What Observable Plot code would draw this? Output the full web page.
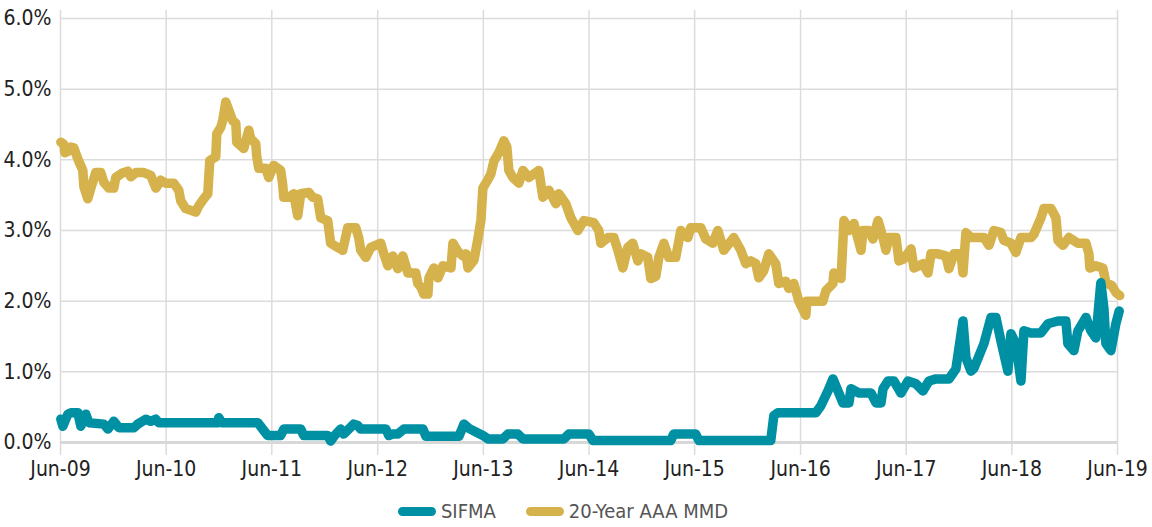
<!DOCTYPE html>
<html><head><meta charset="utf-8">
<script src="https://cdn.jsdelivr.net/npm/d3@7"></script>
<script src="https://cdn.jsdelivr.net/npm/@observablehq/plot@0.6"></script>
<style>
body{margin:0;background:#fff;font-family:"Liberation Sans Narrow","Arial Narrow","DejaVu Sans Condensed",sans-serif;}
#legend{display:flex;justify-content:center;align-items:center;gap:30px;padding-right:26px;height:52px;font-size:20px;color:#555;}
.item{display:flex;align-items:center;}
.sw{display:inline-block;width:38px;height:9px;border-radius:5px;margin-right:5px;}
</style></head><body>
<div id="chart"></div>
<div id="legend"></div>
<script>
// dates as decimal years, values in percent
const mmd = [[2009.417,4.25],[2009.445,4.22],[2009.455,4.10],[2009.483,4.12],[2009.512,4.18],[2009.540,4.17],[2009.568,4.05],[2009.587,3.98],[2009.625,3.85],[2009.635,3.62],[2009.672,3.45],[2009.701,3.60],[2009.748,3.82],[2009.795,3.82],[2009.824,3.68],[2009.871,3.60],[2009.918,3.60],[2009.937,3.75],[2009.994,3.81],[2010.051,3.84],[2010.079,3.76],[2010.127,3.82],[2010.202,3.82],[2010.268,3.78],[2010.316,3.60],[2010.363,3.71],[2010.410,3.67],[2010.486,3.67],[2010.533,3.57],[2010.552,3.42],[2010.599,3.31],[2010.694,3.26],[2010.723,3.35],[2010.770,3.45],[2010.808,3.52],[2010.817,3.75],[2010.827,3.99],[2010.883,4.04],[2010.893,4.37],[2010.931,4.46],[2010.950,4.56],[2010.978,4.82],[2011.025,4.63],[2011.044,4.55],[2011.073,4.52],[2011.082,4.25],[2011.148,4.16],[2011.196,4.42],[2011.214,4.30],[2011.262,4.23],[2011.271,4.05],[2011.290,3.88],[2011.356,3.88],[2011.385,3.75],[2011.432,3.92],[2011.498,3.85],[2011.517,3.65],[2011.527,3.47],[2011.574,3.47],[2011.621,3.52],[2011.659,3.21],[2011.688,3.52],[2011.763,3.54],[2011.801,3.47],[2011.848,3.45],[2011.877,3.18],[2011.943,3.14],[2011.971,2.82],[2012.038,2.76],[2012.085,2.72],[2012.132,3.04],[2012.208,3.04],[2012.236,2.90],[2012.255,2.72],[2012.303,2.62],[2012.350,2.76],[2012.444,2.82],[2012.473,2.67],[2012.511,2.50],[2012.558,2.64],[2012.605,2.46],[2012.652,2.64],[2012.700,2.40],[2012.775,2.40],[2012.794,2.25],[2012.823,2.20],[2012.851,2.10],[2012.889,2.10],[2012.899,2.33],[2012.946,2.47],[2012.984,2.33],[2013.031,2.50],[2013.107,2.47],[2013.126,2.82],[2013.173,2.70],[2013.220,2.64],[2013.249,2.67],[2013.268,2.47],[2013.325,2.58],[2013.362,2.88],[2013.391,3.15],[2013.409,3.60],[2013.457,3.72],[2013.485,3.80],[2013.513,3.98],[2013.560,4.10],[2013.608,4.27],[2013.636,4.18],[2013.655,3.85],[2013.693,3.75],[2013.750,3.67],[2013.788,3.85],[2013.845,3.75],[2013.939,3.85],[2013.977,3.47],[2014.034,3.57],[2014.100,3.38],[2014.128,3.52],[2014.194,3.38],[2014.242,3.18],[2014.308,3.00],[2014.365,3.14],[2014.459,3.11],[2014.507,3.00],[2014.526,2.82],[2014.592,2.90],[2014.649,2.90],[2014.687,2.72],[2014.734,2.47],[2014.781,2.76],[2014.828,2.82],[2014.876,2.57],[2014.904,2.67],[2014.970,2.62],[2014.999,2.32],[2015.046,2.35],[2015.075,2.62],[2015.122,2.82],[2015.169,2.62],[2015.235,2.62],[2015.283,3.00],[2015.349,2.90],[2015.377,3.04],[2015.472,3.04],[2015.519,2.88],[2015.585,2.82],[2015.633,3.00],[2015.690,2.72],[2015.784,2.90],[2015.851,2.72],[2015.898,2.53],[2015.945,2.57],[2015.993,2.53],[2016.021,2.33],[2016.068,2.43],[2016.115,2.67],[2016.181,2.53],[2016.210,2.25],[2016.276,2.28],[2016.304,2.18],[2016.352,2.25],[2016.399,2.00],[2016.465,1.80],[2016.475,2.00],[2016.626,2.00],[2016.655,2.15],[2016.721,2.25],[2016.730,2.40],[2016.797,2.32],[2016.825,3.14],[2016.872,3.00],[2016.919,3.10],[2016.986,2.72],[2017.005,3.00],[2017.062,3.00],[2017.099,2.88],[2017.147,3.14],[2017.194,2.90],[2017.222,2.72],[2017.250,2.90],[2017.317,2.90],[2017.345,2.57],[2017.393,2.60],[2017.459,2.74],[2017.487,2.47],[2017.572,2.53],[2017.620,2.40],[2017.648,2.67],[2017.714,2.67],[2017.790,2.64],[2017.818,2.46],[2017.866,2.67],[2017.932,2.67],[2017.951,2.40],[2017.979,2.97],[2018.027,2.90],[2018.150,2.90],[2018.197,2.79],[2018.244,3.00],[2018.310,2.97],[2018.339,2.86],[2018.405,2.82],[2018.452,2.69],[2018.500,2.90],[2018.594,2.90],[2018.623,2.95],[2018.689,3.18],[2018.717,3.31],[2018.784,3.31],[2018.831,3.18],[2018.850,2.86],[2018.897,2.79],[2018.954,2.90],[2019.039,2.82],[2019.115,2.82],[2019.143,2.67],[2019.152,2.47],[2019.209,2.50],[2019.275,2.47],[2019.304,2.26],[2019.360,2.22],[2019.400,2.12],[2019.435,2.08]];

const sifma = [[2009.417,0.33],[2009.436,0.23],[2009.483,0.40],[2009.512,0.42],[2009.578,0.42],[2009.606,0.23],[2009.654,0.40],[2009.682,0.28],[2009.824,0.26],[2009.862,0.19],[2009.918,0.30],[2009.966,0.21],[2010.108,0.21],[2010.145,0.26],[2010.221,0.33],[2010.268,0.30],[2010.316,0.33],[2010.344,0.28],[2010.391,0.28],[2010.902,0.28],[2010.912,0.35],[2010.940,0.28],[2011.281,0.28],[2011.338,0.17],[2011.375,0.10],[2011.498,0.10],[2011.527,0.19],[2011.688,0.19],[2011.716,0.10],[2011.943,0.10],[2011.971,0.02],[2012.009,0.10],[2012.066,0.19],[2012.094,0.12],[2012.189,0.26],[2012.227,0.24],[2012.255,0.19],[2012.492,0.19],[2012.520,0.10],[2012.558,0.12],[2012.605,0.12],[2012.662,0.19],[2012.842,0.19],[2012.870,0.09],[2013.183,0.09],[2013.230,0.26],[2013.277,0.20],[2013.343,0.15],[2013.409,0.10],[2013.457,0.05],[2013.599,0.05],[2013.646,0.12],[2013.741,0.12],[2013.788,0.05],[2014.176,0.05],[2014.223,0.12],[2014.412,0.12],[2014.450,0.03],[2015.188,0.03],[2015.216,0.12],[2015.424,0.12],[2015.453,0.03],[2016.134,0.03],[2016.163,0.38],[2016.200,0.42],[2016.560,0.42],[2016.607,0.52],[2016.674,0.73],[2016.721,0.90],[2016.768,0.73],[2016.815,0.56],[2016.872,0.56],[2016.891,0.76],[2016.967,0.70],[2017.080,0.70],[2017.128,0.56],[2017.175,0.56],[2017.194,0.76],[2017.241,0.87],[2017.298,0.87],[2017.364,0.70],[2017.430,0.87],[2017.506,0.83],[2017.572,0.73],[2017.629,0.87],[2017.695,0.90],[2017.818,0.90],[2017.884,1.04],[2017.951,1.72],[2017.979,1.20],[2018.027,1.01],[2018.055,1.05],[2018.150,1.40],[2018.216,1.77],[2018.263,1.77],[2018.310,1.44],[2018.376,1.01],[2018.405,1.54],[2018.452,1.40],[2018.500,0.87],[2018.528,1.58],[2018.594,1.55],[2018.689,1.55],[2018.755,1.68],[2018.850,1.72],[2018.925,1.72],[2018.944,1.40],[2019.001,1.30],[2019.039,1.58],[2019.115,1.77],[2019.162,1.58],[2019.209,1.48],[2019.256,2.26],[2019.285,1.90],[2019.304,1.40],[2019.351,1.30],[2019.398,1.68],[2019.430,1.86]];

const seriesNames = ["SIFMA", "20-Year AAA MMD"];
const seriesColors = ["#0090A3", "#D5B24C"];
const tickYears = [2009,2010,2011,2012,2013,2014,2015,2016,2017,2018,2019];
const yTicks = [0,1,2,3,4,5,6];

function toDate(t){
  const y = Math.floor(t);
  const s = Date.UTC(y,0,1), e = Date.UTC(y+1,0,1);
  return new Date(s + (t - y) * (e - s));
}
const rows = (arr) => arr.map(([t, v]) => ({date: toDate(t), value: v}));
const xTicks = tickYears.map(y => new Date(Date.UTC(y,5,1)));
const font = '"Liberation Sans Narrow","Arial Narrow","DejaVu Sans Condensed",sans-serif';

const chart = Plot.plot({
  width: 1152, height: 485,
  marginTop: 18, marginBottom: 43, marginLeft: 60, marginRight: 35,
  style: {fontFamily: font, fontSize: "21px", color: "#222", background: "#fff", overflow: "visible"},
  x: {type: "utc", domain: [xTicks[0], xTicks[xTicks.length-1]]},
  y: {domain: [0, 6]},
  marks: [
    Plot.gridY(yTicks.slice(1), {stroke: "#dcdcdc", strokeOpacity: 1, strokeWidth: 1.5}),
    Plot.gridX(xTicks, {stroke: "#dcdcdc", strokeOpacity: 1, strokeWidth: 1.5, insetTop: -8, insetBottom: -13}),
    Plot.ruleY([0], {stroke: "#d8d8d8", strokeWidth: 3}),
    Plot.axisY(yTicks, {tickSize: 0, tickPadding: 9, tickFormat: d => d.toFixed(1) + "%", label: null, fill: "#222"}),
    Plot.axisX(xTicks, {tickSize: 0, tickPadding: 19, tickFormat: d3.utcFormat("%b-%y"), label: null, fill: "#222"}),
    Plot.line(rows(mmd), {x: "date", y: "value", stroke: seriesColors[1], strokeWidth: 9.5, strokeLinejoin: "round", strokeLinecap: "round"}),
    Plot.line(rows(sifma), {x: "date", y: "value", stroke: seriesColors[0], strokeWidth: 9.5, strokeLinejoin: "round", strokeLinecap: "round"})
  ]
});
document.getElementById("chart").appendChild(chart);

const legend = document.getElementById("legend");
seriesNames.forEach((n, i) => {
  const it = document.createElement("div");
  it.className = "item";
  const sw = document.createElement("span");
  sw.className = "sw";
  sw.style.background = seriesColors[i];
  it.appendChild(sw);
  it.appendChild(document.createTextNode(n));
  legend.appendChild(it);
});
</script>
</body></html>
